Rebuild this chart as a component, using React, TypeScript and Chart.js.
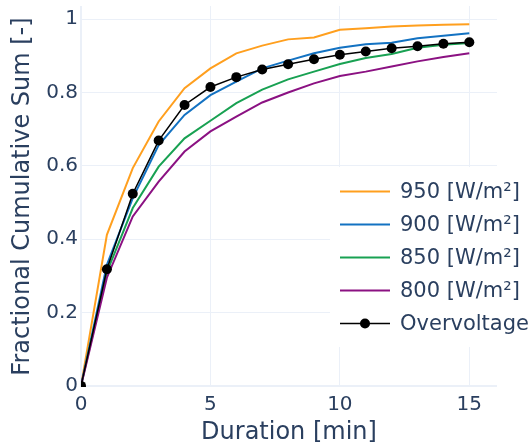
import { useEffect, useRef } from "react";
import { Chart, registerables } from "chart.js";

Chart.register(...registerables);

const durations = [0, 1, 2, 3, 4, 5, 6, 7, 8, 9, 10, 11, 12, 13, 14, 15];
const series950 = [0, 0.412, 0.594, 0.721, 0.812, 0.866, 0.907, 0.928, 0.945, 0.95, 0.971, 0.975, 0.98, 0.983, 0.985, 0.986];
const series900 = [0, 0.33, 0.512, 0.657, 0.739, 0.793, 0.83, 0.866, 0.887, 0.907, 0.922, 0.932, 0.936, 0.948, 0.955, 0.962];
const series850 = [0, 0.31, 0.485, 0.598, 0.675, 0.723, 0.771, 0.808, 0.836, 0.857, 0.878, 0.894, 0.905, 0.922, 0.93, 0.935];
const series800 = [0, 0.295, 0.462, 0.557, 0.639, 0.694, 0.734, 0.773, 0.8, 0.825, 0.845, 0.857, 0.871, 0.885, 0.897, 0.907];
const overvoltage = [0, 0.318, 0.524, 0.669, 0.766, 0.815, 0.842, 0.863, 0.877, 0.891, 0.903, 0.912, 0.921, 0.926, 0.933, 0.937];

const seriesLabels = ["950 [W/m²]", "900 [W/m²]", "850 [W/m²]", "800 [W/m²]", "Overvoltage"];
const seriesColors = ["#ff9f1e", "#1372c2", "#18a152", "#8b1182", "#000000"];
const xTicks = [0, 5, 10, 15];
const yTicks = [0, 0.2, 0.4, 0.6, 0.8, 1];

const FONT = "DejaVu Sans";
const TEXT = "#2a3f5f";
const GRID = "#ebf0f8";

const toPoints = (vals: number[]) => vals.map((v, i) => ({ x: durations[i], y: v }));

const floatLegend = {
  id: "floatLegend",
  afterDraw(chart: any) {
    const ctx = chart.ctx as CanvasRenderingContext2D;
    ctx.save();
    ctx.fillStyle = "#ffffff";
    ctx.fillRect(330, 167, 201, 180);
    ctx.font = `21px "${FONT}"`;
    ctx.textBaseline = "middle";
    ctx.textAlign = "left";
    seriesLabels.forEach((label, i) => {
      const y = 191.5 + i * 33;
      ctx.strokeStyle = seriesColors[i];
      ctx.lineWidth = i === 4 ? 1.5 : 2;
      ctx.beginPath();
      ctx.moveTo(340, y);
      ctx.lineTo(390, y);
      ctx.stroke();
      if (i === 4) {
        ctx.fillStyle = "#000000";
        ctx.beginPath();
        ctx.arc(365, y, 5, 0, Math.PI * 2);
        ctx.fill();
      }
      ctx.fillStyle = TEXT;
      ctx.fillText(label, 400, y + 1);
    });
    ctx.restore();
  },
};

export default function App() {
  const ref = useRef<HTMLCanvasElement | null>(null);

  useEffect(() => {
    document.body.style.margin = "0";
    if (!ref.current) return;
    const lineSeries = [series950, series900, series850, series800];
    const datasets: any[] = lineSeries.map((vals, i) => ({
      label: seriesLabels[i],
      data: toPoints(vals),
      borderColor: seriesColors[i],
      backgroundColor: seriesColors[i],
      borderWidth: 2,
      pointRadius: 0,
      tension: 0,
      order: 5 - i,
    }));
    datasets.push({
      label: seriesLabels[4],
      data: toPoints(overvoltage),
      borderColor: "#000000",
      backgroundColor: "#000000",
      borderWidth: 1.5,
      pointRadius: 5,
      pointBorderWidth: 0,
      tension: 0,
      order: 0,
    });

    const chart = new Chart(ref.current, {
      type: "line",
      data: { datasets },
      plugins: [floatLegend],
      options: {
        animation: false,
        responsive: false,
        layout: { padding: { top: 6, right: 34, left: 0, bottom: 0 } },
        plugins: { legend: { display: false }, tooltip: { enabled: false } },
        scales: {
          x: {
            type: "linear",
            min: 0,
            max: 16.07,
            afterFit: (s: any) => {
              s.height = 57;
              s.paddingLeft = 0;
              s.paddingRight = 0;
            },
            afterBuildTicks: (s: any) => {
              s.ticks = xTicks.map((v) => ({ value: v }));
            },
            ticks: {
              color: TEXT,
              font: { family: FONT, size: 20 },
              padding: 6,
              maxRotation: 0,
              callback: (v: any) => String(v),
            },
            grid: {
              color: GRID,
              lineWidth: (c: any) => (c.tick && c.tick.value === 0 ? 2 : 1),
              drawTicks: false,
            },
            border: { display: false },
            title: {
              display: true,
              text: "Duration [min]",
              color: TEXT,
              font: { family: FONT, size: 24 },
              padding: { top: 0, bottom: -3 },
            },
          },
          y: {
            type: "linear",
            min: -0.003,
            max: 1.036,
            afterFit: (s: any) => {
              s.width = 81;
              s.paddingTop = 0;
              s.paddingBottom = 0;
            },
            afterBuildTicks: (s: any) => {
              s.ticks = yTicks.map((v) => ({ value: v }));
            },
            ticks: {
              color: TEXT,
              font: { family: FONT, size: 20 },
              padding: 3,
              callback: (v: any) => String(Math.round(Number(v) * 10) / 10),
            },
            grid: {
              color: GRID,
              lineWidth: (c: any) => (c.tick && c.tick.value === 0 ? 2 : 1),
              drawTicks: false,
            },
            border: { display: false },
            title: {
              display: true,
              text: "Fractional Cumulative Sum [-]",
              color: TEXT,
              font: { family: FONT, size: 24 },
              padding: { top: 8, bottom: 0 },
            },
          },
        },
      },
    });
    return () => chart.destroy();
  }, []);

  return (
    <div style={{ width: 531, height: 444 }}>
      <canvas ref={ref} width={531} height={444} />
    </div>
  );
}
